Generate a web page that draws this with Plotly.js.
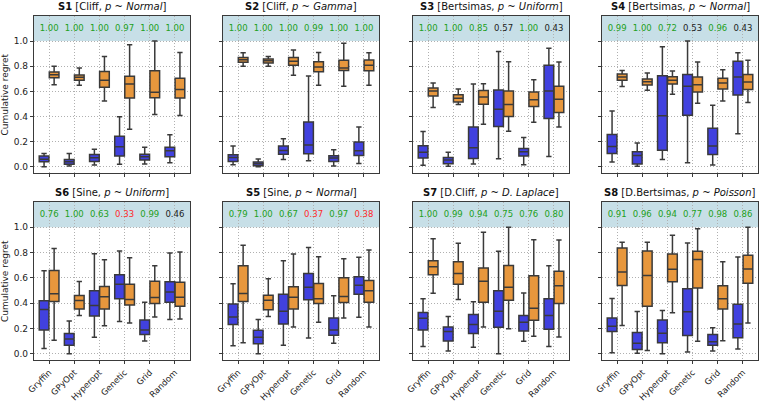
<!DOCTYPE html>
<html><head><meta charset="utf-8">
<script src="https://cdn.plot.ly/plotly-3.0.1.min.js"></script>
<style>html,body{margin:0;padding:0;background:#fff}#chart{width:762px;height:402px}</style>
</head><body><div id="chart"></div>
<script>
const categories = ['Gryffin','GPyOpt','Hyperopt','Genetic','Grid','Random'];
// rows: [lowerfence, q1, median, q3, upperfence]
const S1_blue = [[0.00,0.04,0.06,0.085,0.105],[0.005,0.02,0.04,0.058,0.106],[0.013,0.042,0.071,0.098,0.14],[0.019,0.085,0.159,0.243,0.397],[0.021,0.053,0.079,0.10,0.156],[0.032,0.079,0.127,0.156,0.254]];
const S1_orange = [[0.653,0.709,0.733,0.754,0.80],[0.648,0.688,0.712,0.73,0.786],[0.524,0.632,0.688,0.759,0.878],[0.299,0.548,0.659,0.72,0.971],[0.415,0.55,0.593,0.765,1.0],[0.407,0.548,0.614,0.704,0.91]];
const S2_blue = [[0.016,0.042,0.074,0.095,0.164],[0.0,0.008,0.024,0.037,0.061],[0.058,0.10,0.13,0.164,0.222],[0.048,0.103,0.172,0.357,0.722],[0.005,0.042,0.069,0.087,0.135],[0.026,0.09,0.127,0.196,0.317]];
const S2_orange = [[0.799,0.831,0.852,0.870,0.907],[0.799,0.825,0.844,0.857,0.878],[0.728,0.807,0.839,0.87,0.929],[0.648,0.757,0.794,0.836,0.91],[0.640,0.767,0.786,0.847,0.984],[0.648,0.765,0.807,0.849,0.907]];
const S3_blue = [[0.011,0.069,0.116,0.167,0.28],[0.003,0.024,0.053,0.074,0.116],[0.021,0.066,0.151,0.317,0.659],[0.063,0.32,0.458,0.611,0.918],[0.016,0.085,0.119,0.146,0.233],[0.082,0.384,0.603,0.807,0.944]];
const S3_orange = [[0.471,0.563,0.603,0.627,0.667],[0.495,0.516,0.545,0.574,0.619],[0.339,0.497,0.556,0.606,0.661],[0.283,0.40,0.495,0.603,0.836],[0.354,0.479,0.534,0.595,0.693],[0.317,0.431,0.537,0.64,0.833]];
const S4_blue = [[0.037,0.106,0.161,0.257,0.444],[0.003,0.021,0.09,0.119,0.188],[0.058,0.132,0.405,0.725,0.955],[0.032,0.41,0.64,0.735,1.0],[0.013,0.098,0.164,0.307,0.489],[0.262,0.571,0.714,0.839,0.907]];
const S4_orange = [[0.638,0.688,0.714,0.738,0.767],[0.608,0.651,0.677,0.698,0.746],[0.577,0.659,0.688,0.717,0.762],[0.505,0.595,0.653,0.714,0.833],[0.524,0.619,0.667,0.704,0.772],[0.511,0.614,0.675,0.735,0.847]];
const S6_blue = [[0.04,0.188,0.349,0.418,0.656],[0.0,0.066,0.116,0.159,0.259],[0.13,0.299,0.381,0.497,0.791],[0.254,0.434,0.55,0.624,0.812],[0.10,0.151,0.188,0.267,0.407],[0.27,0.407,0.487,0.569,0.796]];
const S6_orange = [[0.106,0.413,0.474,0.659,0.833],[0.302,0.354,0.421,0.46,0.571],[0.22,0.354,0.45,0.532,0.743],[0.243,0.386,0.429,0.55,0.759],[0.291,0.397,0.444,0.574,0.696],[0.275,0.376,0.447,0.566,0.804]];
const S5_blue = [[0.063,0.23,0.291,0.394,0.553],[0.0,0.079,0.13,0.185,0.27],[0.066,0.235,0.336,0.471,0.735],[0.124,0.426,0.526,0.635,0.841],[0.082,0.146,0.188,0.283,0.458],[0.288,0.471,0.542,0.608,0.762]];
const S5_orange = [[0.087,0.413,0.476,0.696,0.857],[0.294,0.347,0.423,0.463,0.593],[0.212,0.354,0.447,0.529,0.788],[0.249,0.397,0.434,0.556,0.767],[0.283,0.405,0.452,0.601,0.751],[0.212,0.407,0.497,0.579,0.82]];
const S7_blue = [[0.056,0.188,0.28,0.325,0.434],[0.021,0.10,0.175,0.212,0.294],[0.05,0.159,0.23,0.31,0.41],[0.0,0.209,0.336,0.497,0.81],[0.098,0.18,0.249,0.302,0.481],[0.056,0.193,0.302,0.434,0.696]];
const S7_orange = [[0.479,0.624,0.688,0.735,0.91],[0.429,0.55,0.635,0.728,0.873],[0.212,0.407,0.574,0.677,0.96],[0.198,0.423,0.526,0.698,1.0],[0.138,0.265,0.36,0.616,0.902],[0.132,0.397,0.537,0.653,0.899]];
const S8_blue = [[0.008,0.175,0.217,0.283,0.437],[0.003,0.034,0.082,0.167,0.333],[0.0,0.087,0.161,0.267,0.341],[0.013,0.143,0.331,0.513,0.876],[0.021,0.066,0.095,0.151,0.206],[0.037,0.127,0.235,0.392,0.765]];
const S8_orange = [[0.222,0.54,0.646,0.836,0.881],[0.026,0.376,0.619,0.812,0.881],[0.323,0.569,0.667,0.788,0.937],[0.098,0.519,0.746,0.81,0.989],[0.103,0.354,0.434,0.537,0.728],[0.243,0.558,0.669,0.778,1.0]];

const S1_score = [1.00,1.00,1.00,0.97,1.00,1.00];
const S2_score = [1.00,1.00,1.00,0.99,1.00,1.00];
const S3_score = [1.00,1.00,0.85,0.57,1.00,0.43];
const S4_score = [0.99,1.00,0.72,0.53,0.96,0.43];
const S6_score = [0.76,1.00,0.63,0.33,0.99,0.46];
const S5_score = [0.79,1.00,0.67,0.37,0.97,0.38];
const S7_score = [1.00,0.99,0.94,0.75,0.76,0.80];
const S8_score = [0.91,0.96,0.94,0.77,0.98,0.86];

const panelTitles = [
  '<b>S1</b> [Cliff, <i>p</i> ~ <i>Normal</i>]',
  '<b>S2</b> [Cliff, <i>p</i> ~ <i>Gamma</i>]',
  '<b>S3</b> [Bertsimas, <i>p</i> ~ <i>Uniform</i>]',
  '<b>S4</b> [Bertsimas, <i>p</i> ~ <i>Normal</i>]',
  '<b>S6</b> [Sine, <i>p</i> ~ <i>Uniform</i>]',
  '<b>S5</b> [Sine, <i>p</i> ~ <i>Normal</i>]',
  '<b>S7</b> [D.Cliff, <i>p</i> ~ <i>D. Laplace</i>]',
  '<b>S8</b> [D.Bertsimas, <i>p</i> ~ <i>Poisson</i>]'
];
const panelsBlue = [S1_blue,S2_blue,S3_blue,S4_blue,S6_blue,S5_blue,S7_blue,S8_blue];
const panelsOrange = [S1_orange,S2_orange,S3_orange,S4_orange,S6_orange,S5_orange,S7_orange,S8_orange];
const panelsScore = [S1_score,S2_score,S3_score,S4_score,S6_score,S5_score,S7_score,S8_score];

const W = 762, H = 402;
const colLeft = [34, 223, 413, 602], panelW = 156;
const rowTop = [16, 202], rowBot = [173, 360];
const BLUE = '#4141df', ORANGE = '#e7973d', EDGE = '#3a3a3a';
const FONT = 'DejaVu Sans, sans-serif';

function scoreColor(v){ return v >= 0.6 ? '#22a022' : (v < 0.4 ? '#ff2a2a' : '#222222'); }

const traces = [], shapes = [], annotations = [];
const layout = {
  width: W, height: H, margin: {l:0,r:0,t:0,b:0},
  paper_bgcolor: '#fff', plot_bgcolor: '#fff',
  showlegend: false, hovermode: false,
  boxmode: 'group', boxgap: 0.2, boxgroupgap: 0.04,
  font: {family: FONT, size: 9, color: '#222'}
};

for (let p = 0; p < 8; p++) {
  const row = Math.floor(p / 4), col = p % 4;
  const n = p + 1, xs = n === 1 ? 'x' : 'x' + n, ys = n === 1 ? 'y' : 'y' + n;
  const xa = n === 1 ? 'xaxis' : 'xaxis' + n, ya = n === 1 ? 'yaxis' : 'yaxis' + n;
  const x0 = colLeft[col] / W, x1 = (colLeft[col] + panelW) / W;
  const y0 = 1 - rowBot[row] / H, y1 = 1 - rowTop[row] / H;
  layout[xa] = {
    domain: [x0, x1], anchor: ys, type: 'category', categoryarray: categories,
    range: [-0.6, 5.6], showgrid: true, griddash: '1px,2px', gridcolor: '#b0b0b0', gridwidth: 1,
    showline: true, mirror: true, linecolor: '#3a3a3a', linewidth: 1.2,
    ticks: 'outside', ticklen: 3, tickcolor: '#3a3a3a',
    showticklabels: row === 1, tickangle: -45, tickfont: {family: FONT, size: 8.5, color: '#222'},
    zeroline: false, fixedrange: true
  };
  layout[ya] = {
    domain: [y0, y1], anchor: xs, range: [-0.05, 1.2],
    tickvals: [0, 0.2, 0.4, 0.6, 0.8, 1.0], tickformat: '.1f',
    showgrid: true, griddash: '1px,2px', gridcolor: '#b0b0b0', gridwidth: 1,
    showline: true, mirror: true, linecolor: '#3a3a3a', linewidth: 1.2,
    ticks: 'outside', ticklen: 3, tickcolor: '#3a3a3a',
    showticklabels: col === 0, tickfont: {family: FONT, size: 9, color: '#222'},
    zeroline: false, fixedrange: true
  };
  shapes.push({type: 'rect', xref: xs + ' domain', yref: ys, x0: 0, x1: 1, y0: 1.0, y1: 1.2,
    fillcolor: '#c7dfe7', line: {width: 0}, layer: 'below'});
  [[panelsBlue[p], BLUE, 'a'], [panelsOrange[p], ORANGE, 'b']].forEach(([d, c, g]) => {
    traces.push({
      type: 'box', xaxis: xs, yaxis: ys, x: categories, offsetgroup: g,
      lowerfence: d.map(r => r[0]), q1: d.map(r => r[1]), median: d.map(r => r[2]),
      q3: d.map(r => r[3]), upperfence: d.map(r => r[4]),
      fillcolor: c, line: {color: EDGE, width: 1.5}, whiskerwidth: 0.55, boxpoints: false
    });
  });
  const sc = panelsScore[p];
  traces.push({
    type: 'scatter', mode: 'text', xaxis: xs, yaxis: ys, x: categories, y: sc.map(() => 1.1),
    text: sc.map(v => v.toFixed(2)), textposition: 'middle center',
    textfont: {family: FONT, size: 8.5, color: sc.map(scoreColor)}, cliponaxis: false
  });
  annotations.push({
    xref: 'paper', yref: 'paper', x: (x0 + x1) / 2, y: y1, yshift: 2, yanchor: 'bottom', xanchor: 'center',
    text: panelTitles[p], showarrow: false, font: {family: FONT, size: 10, color: '#111'}
  });
  if (col === 0) {
    annotations.push({
      xref: 'paper', yref: 'paper', x: 5 / W, y: (y0 + y1) / 2, xanchor: 'center', yanchor: 'middle',
      text: 'Cumulative regret', textangle: -90, showarrow: false, font: {family: FONT, size: 9, color: '#222'}
    });
  }
}
layout.shapes = shapes;
layout.annotations = annotations;
Plotly.newPlot('chart', traces, layout, {staticPlot: true, displayModeBar: false});
</script></body></html>
